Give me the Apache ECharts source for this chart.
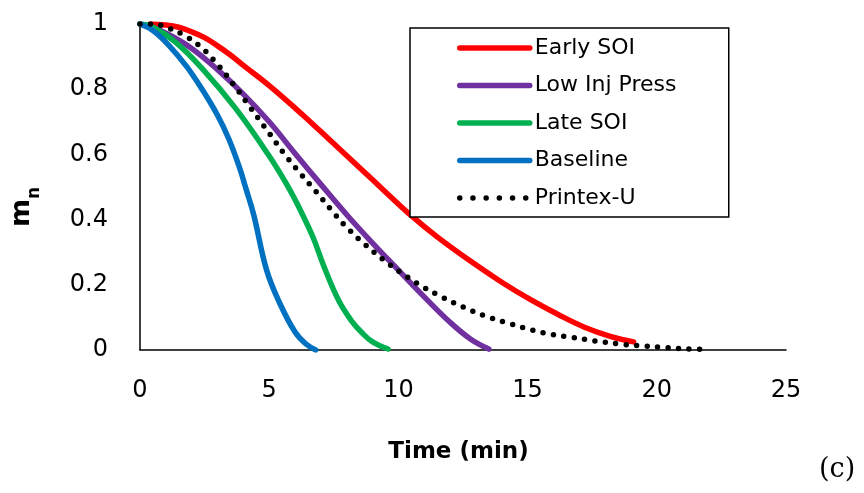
<!DOCTYPE html>
<html>
<head>
<meta charset="utf-8">
<script src="https://cdn.jsdelivr.net/npm/echarts@6/dist/echarts.min.js"></script>
<style>
html,body{margin:0;padding:0;background:#fff;}
#chart{width:864px;height:493px;}
</style>
</head>
<body>
<div id="chart"></div>
<script>
// ---- data ----
const seriesNames = ['Early SOI', 'Low Inj Press', 'Late SOI', 'Baseline', 'Printex-U'];

const timeEarly = [0.4, 1, 1.5, 2, 2.5, 3, 3.5, 4, 5, 6.3, 7.4, 8.5, 9.5, 10.5, 11.5, 12.8, 14, 15.1, 16.2, 17.2, 18.2, 19.1];
const mnEarly   = [1, 0.997, 0.99, 0.976, 0.958, 0.933, 0.905, 0.873, 0.811, 0.721, 0.64, 0.559, 0.485, 0.412, 0.347, 0.272, 0.208, 0.155, 0.108, 0.07, 0.042, 0.025];

const timeLowInj = [0, 0.5, 1.1, 2, 3, 4, 5, 6, 7, 8, 9, 10, 11, 12, 12.8, 13.5];
const mnLowInj   = [1, 0.99, 0.968, 0.925, 0.86, 0.785, 0.7, 0.603, 0.508, 0.415, 0.328, 0.245, 0.163, 0.085, 0.033, 0.003];

const timeLate = [0, 0.5, 1.35, 2.4, 3.7, 5, 5.7, 6.2, 6.7, 7.1, 7.7, 8.2, 8.6, 9, 9.6];
const mnLate   = [1, 0.99, 0.946, 0.864, 0.741, 0.595, 0.505, 0.43, 0.345, 0.26, 0.15, 0.088, 0.052, 0.025, 0.003];

const timeBase = [0, 0.5, 1.1, 1.8, 2.4, 3, 3.45, 3.87, 4.1, 4.4, 4.9, 5.4, 6, 6.4, 6.8];
const mnBase   = [1, 0.98, 0.936, 0.87, 0.8, 0.72, 0.645, 0.555, 0.495, 0.415, 0.245, 0.145, 0.055, 0.02, 0.0];

const timePrintex = [0, 0.5, 1, 1.7, 2.4, 3, 3.65, 4.2, 5, 5.6, 6.2, 6.8, 7.4, 8, 8.7, 9.4, 10.1, 10.9, 11.7, 12.5, 13.3, 14.1, 15, 15.8, 16.7, 17.6, 18.5, 19.5, 20.4, 21.3, 21.8];
const mnPrintex   = [1, 1, 0.99, 0.966, 0.926, 0.876, 0.811, 0.751, 0.665, 0.6, 0.542, 0.487, 0.43, 0.376, 0.324, 0.278, 0.237, 0.196, 0.162, 0.132, 0.106, 0.086, 0.065, 0.05, 0.039, 0.028, 0.019, 0.012, 0.007, 0.003, 0.002];

const xTicks = { min: 0, max: 25, interval: 5 };
const yTicks = { min: 0, max: 1, interval: 0.2 };

const colors = ['#FF0000', '#7030A0', '#00B050', '#0070C0', '#000000'];

function pairs(ts, ms) { return ts.map((t, i) => [t, ms[i]]); }

const seriesData = [
  pairs(timeEarly, mnEarly),
  pairs(timeLowInj, mnLowInj),
  pairs(timeLate, mnLate),
  pairs(timeBase, mnBase),
  pairs(timePrintex, mnPrintex)
];

const font = '"DejaVu Sans", sans-serif';

const chart = echarts.init(document.getElementById('chart'), null, { renderer: 'canvas' });

const series = seriesNames.map((name, i) => {
  const dotted = i === 4;
  return {
    name: name,
    type: 'line',
    data: seriesData[i],
    smooth: 0.4,
    showSymbol: false,
    symbol: 'none',
    z: dotted ? 5 : 2,
    lineStyle: dotted
      ? { color: colors[i], width: 5.5, type: [0, 10.5], cap: 'round' }
      : { color: colors[i], width: 5.5, cap: 'round', join: 'round' },
    itemStyle: { color: colors[i] },
    animation: false
  };
});

const legendData = seriesNames.map((name, i) => (
  i === 4 ? { name: name, lineStyle: { type: [0, 13.2], width: 5.5, cap: 'round' } } : { name: name }
));

chart.setOption({
  animation: false,
  backgroundColor: '#ffffff',
  grid: { left: 140, right: 78, top: 24, bottom: 143, containLabel: false, outerBoundsMode: 'none' },
  legend: {
    orient: 'vertical',
    left: 410,
    top: 28,
    data: legendData,
    itemWidth: 70,
    itemHeight: 14,
    itemGap: 13.5,
    padding: [8, 44, 7, 47],
    borderColor: '#000',
    borderWidth: 1.5,
    backgroundColor: '#fff',
    selectedMode: false,
    itemStyle: { color: 'rgba(0,0,0,0)', borderWidth: 0, opacity: 0 },
    lineStyle: { width: 5.5, cap: 'round' },
    textStyle: { fontFamily: font, fontSize: 22, color: '#000', lineHeight: 24, width: 150 }
  },
  xAxis: {
    type: 'value',
    min: xTicks.min, max: xTicks.max, interval: xTicks.interval,
    name: 'Time (min)',
    nameLocation: 'middle',
    nameGap: 91,
    nameTextStyle: { fontFamily: font, fontSize: 23, fontWeight: 'bold', color: '#000', padding: [0, 9, 0, 0] },
    axisLine: { show: true, lineStyle: { color: '#000', width: 1.5 } },
    axisTick: { show: false },
    splitLine: { show: false },
    axisLabel: { fontFamily: font, fontSize: 24, color: '#000', margin: 29 }
  },
  yAxis: {
    type: 'value',
    min: yTicks.min, max: yTicks.max, interval: yTicks.interval,
    name: '{m|m}{n|n}',
    nameLocation: 'middle',
    nameRotate: 90,
    nameGap: 105,
    nameTextStyle: {
      padding: [0, 40, 0, 0],
      rich: {
        m: { fontFamily: font, fontSize: 27, fontWeight: 'bold', color: '#000', verticalAlign: 'bottom' },
        n: { fontFamily: font, fontSize: 17, fontWeight: 'bold', color: '#000', padding: [0, 0, -8, 0], verticalAlign: 'bottom' }
      }
    },
    axisLine: { show: true, lineStyle: { color: '#000', width: 1.5 } },
    axisTick: { show: false },
    splitLine: { show: false },
    axisLabel: { fontFamily: font, fontSize: 24, color: '#000', margin: 32 }
  },
  graphic: [{
    type: 'text',
    left: 819,
    top: 456,
    style: { text: '(c)', font: '27px "DejaVu Serif", "Liberation Serif", serif', fill: '#000' }
  }],
  series: series
});
</script>
</body>
</html>
